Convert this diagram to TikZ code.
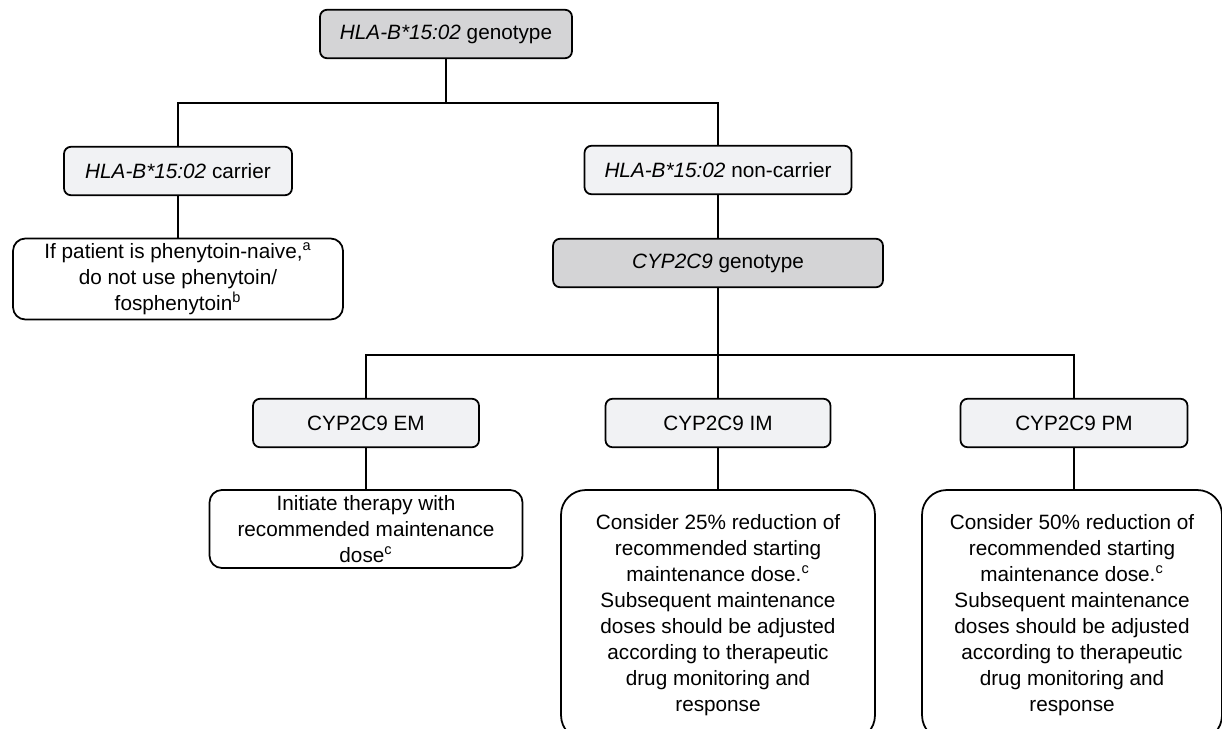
\documentclass[tikz,border=0pt]{standalone}
\usepackage{fontspec}
\setmainfont{Liberation Sans}
\definecolor{boxgray}{HTML}{D4D4D6}
\definecolor{boxlight}{HTML}{F1F2F4}
\newcommand{\txtfont}{\fontsize{11.8}{14.8}\selectfont}
\begin{document}
\begin{tikzpicture}[x=0.02cm, y=-0.02cm, line width=1pt,
	lbl/.style={draw, fill=boxlight, rounded corners=4pt, minimum height=0.97cm, inner sep=2pt, font=\txtfont},
	glbl/.style={lbl, fill=boxgray},
	res/.style={draw, fill=white, rounded corners=7pt, align=center, inner sep=2pt, font=\txtfont},
	bigres/.style={res, rounded corners=14pt}]

	\useasboundingbox (0,0) rectangle (1222,728);

	% genotype boxes
	\node[glbl, minimum width=5.04cm] (hla) at (446,34) {\textit{HLA-B*15:02} genotype};
	\node[lbl, minimum width=4.56cm] (carrier) at (178,171) {\textit{HLA-B*15:02} carrier};
	\node[lbl, minimum width=5.34cm] (noncarrier) at (718,170) {\textit{HLA-B*15:02} non-carrier};
	\node[glbl, minimum width=6.6cm] (cyp) at (718,263) {\textit{CYP2C9} genotype};

	\node[lbl, minimum width=4.52cm] (em) at (366,423) {CYP2C9 EM};
	\node[lbl, minimum width=4.5cm] (im) at (718,423) {CYP2C9 IM};
	\node[lbl, minimum width=4.54cm] (pm) at (1074,423) {CYP2C9 PM};

	% recommendations
	\node[res, minimum width=6.6cm, minimum height=1.62cm] (carrierres) at (178,279)
		{If patient is phenytoin-naive,\textsuperscript{a}\\do not use phenytoin/\\fosphenytoin\textsuperscript{b}};
	\node[res, minimum width=6.26cm, minimum height=1.56cm] (emres) at (366,529)
		{Initiate therapy with\\recommended maintenance\\dose\textsuperscript{c}};
	\node[bigres, minimum width=6.28cm, minimum height=5cm] (imres) at (718,615)
		{Consider 25\% reduction of\\recommended starting\\maintenance dose.\textsuperscript{c}\\Subsequent maintenance\\doses should be adjusted\\according to therapeutic\\drug monitoring and\\response};
	\node[bigres, minimum width=6.0cm, minimum height=5cm] (pmres) at (1072,615)
		{Consider 50\% reduction of\\recommended starting\\maintenance dose.\textsuperscript{c}\\Subsequent maintenance\\doses should be adjusted\\according to therapeutic\\drug monitoring and\\response};

	% connectors
	\coordinate (j1) at (446,103);
	\coordinate (j2) at (718,355);
	\draw (hla) -- (j1);
	\draw (carrier.north) |- (j1) -| (noncarrier.north);
	\draw (carrier) -- (carrierres);
	\draw (noncarrier) -- (cyp);
	\draw (cyp) -- (j2);
	\draw (em.north) |- (j2) -| (pm.north);
	\draw (j2) -- (im.north);
	\draw (em) -- (emres);
	\draw (im) -- (imres);
	\draw (pm.south) -- (pm.south |- pmres.north);

\end{tikzpicture}
\end{document}
